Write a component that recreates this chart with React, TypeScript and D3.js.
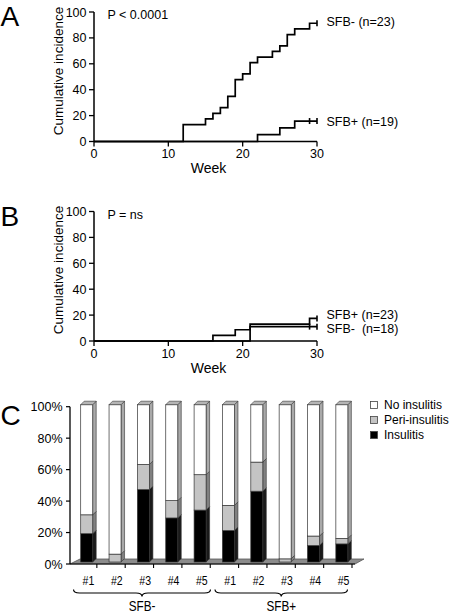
import React from "react";
import * as d3 from "d3";

// Panel A
const weeksAMinus = [0, 12, 15, 16, 17, 18, 19, 20, 21, 22, 24, 25, 26, 27, 29, 30];
const valsAMinus = [0, 13.0, 17.4, 21.7, 26.1, 34.8, 47.8, 52.2, 60.9, 65.2, 69.6, 73.9, 82.6, 87.0, 91.3, 91.3];
const censorAMinus = [30];
const weeksAPlus = [0, 22, 25, 27, 30];
const valsAPlus = [0, 5.3, 10.5, 15.8, 15.8];
const censorAPlus = [29, 30];
// Panel B
const weeksBPlus = [0, 16, 19, 21, 29, 30];
const valsBPlus = [0, 4.3, 8.7, 13.0, 17.4, 17.4];
const censorBPlus = [30];
const weeksBMinus = [0, 21, 30];
const valsBMinus = [0, 11.1, 11.1];
const censorBMinus = [29, 30];

const yTicks = [0, 20, 40, 60, 80, 100];
const xTicks = [0, 10, 20, 30];

// Panel C
const mice = ["#1", "#2", "#3", "#4", "#5", "#1", "#2", "#3", "#4", "#5"];
const groups = ["SFB-", "SFB+"];
const insulitis = [18, 0, 46, 28, 33, 20, 45, 0, 10.5, 11.5];
const periInsulitis = [12, 5, 16, 11, 22.5, 16, 18.5, 2, 6, 3.5];
const pctTicks = [0, 20, 40, 60, 80, 100];
const legendLabels = ["No insulitis", "Peri-insulitis", "Insulitis"];

const FONT = "'Liberation Sans', Arial, Helvetica, sans-serif";

const x = d3.scaleLinear().domain([0, 30]).range([94, 317]);

function KMPanel({ y0, letter, pText, curves, labels, titleCenter }: any) {
  const y = d3.scaleLinear().domain([0, 100]).range([y0, y0 - 129.5]);
  const line = d3
    .line<[number, number]>()
    .x((d) => x(d[0]))
    .y((d) => y(d[1]))
    .curve(d3.curveStepAfter);
  return (
    <g>
      <text x={0.5} y={y0 - 115.5} fontSize={28} fontFamily={FONT}>{letter}</text>
      <line x1={94} x2={94} y1={y(100)} y2={y(0)} stroke="#000" strokeWidth={1.5} />
      <line x1={94} x2={317} y1={y(0)} y2={y(0)} stroke="#000" strokeWidth={1.5} />
      {yTicks.map((t) => (
        <g key={"y" + t}>
          <line x1={89} x2={94} y1={y(t)} y2={y(t)} stroke="#000" strokeWidth={1.3} />
          <text x={86.5} y={y(t)} dy="0.36em" textAnchor="end" fontSize={12.5} fontFamily={FONT}>{t}</text>
        </g>
      ))}
      {xTicks.map((t) => (
        <g key={"x" + t}>
          <line x1={x(t)} x2={x(t)} y1={y(0)} y2={y(0) + 5} stroke="#000" strokeWidth={1.3} />
          <text x={x(t)} y={y(0) + 16.5} textAnchor="middle" fontSize={12.5} fontFamily={FONT}>{t}</text>
        </g>
      ))}
      <text x={208.5} y={y(0) + 31.5} textAnchor="middle" fontSize={14} fontFamily={FONT}>Week</text>
      <text
        transform={`translate(62.5,${titleCenter}) rotate(-90)`}
        textAnchor="middle"
        fontSize={13.5}
        fontFamily={FONT}
      >
        Cumulative incidence
      </text>
      <text x={107.5} y={y0 - 122.5} fontSize={12.5} fontFamily={FONT}>{pText}</text>
      {curves.map((c: any, i: number) => (
        <g key={i}>
          <path
            d={line(c.weeks.map((w: number, j: number) => [w, c.vals[j]]) as any) || ""}
            fill="none"
            stroke="#000"
            strokeWidth={1.7}
          />
          {c.censor.map((w: number) => {
            const idx = d3.bisectRight(c.weeks, w) - 1;
            const v = c.vals[Math.max(0, idx)];
            return (
              <line key={w} x1={x(w)} x2={x(w)} y1={y(v) - 3} y2={y(v) + 3} stroke="#000" strokeWidth={1.6} />
            );
          })}
        </g>
      ))}
      {labels.map((l: any, i: number) => (
        <text key={i} x={326.5} y={l.y} dy="0.36em" fontSize={12.5} fontFamily={FONT} style={{ whiteSpace: "pre" }}>
          {l.text}
        </text>
      ))}
    </g>
  );
}

function BarPanel() {
  const yb = d3.scaleLinear().domain([0, 100]).range([564, 406.7]);
  const band = d3.scaleBand<number>().domain(d3.range(mice.length)).range([68.5, 352]).padding(0);
  const bw = 12;
  const dep = 3.5;
  const lift = 2;
  const segColors = [
    { front: "#000000", side: "#1a1a1a" },
    { front: "#c4c4c4", side: "#808080" },
    { front: "#ffffff", side: "#a9a9a9" },
  ];
  return (
    <g fontFamily={FONT}>
      <text x={0.5} y={425} fontSize={28}>C</text>
      <polygon points="70,564 80,559 364,559 355,564" fill="#8c8c8c" stroke="#555" strokeWidth={0.8} />
      <line x1={70} x2={70} y1={yb(100)} y2={yb(0)} stroke="#000" strokeWidth={1.3} />
      {pctTicks.map((t) => (
        <g key={t}>
          <line x1={66} x2={70} y1={yb(t)} y2={yb(t)} stroke="#000" strokeWidth={1.2} />
          <text x={62.5} y={yb(t)} dy="0.36em" textAnchor="end" fontSize={12.5}>{t}%</text>
        </g>
      ))}
      <line x1={70} x2={355} y1={564} y2={564} stroke="#000" strokeWidth={1.2} />
      {d3.range(1, mice.length + 1).map((k) => {
        const xx = 68.5 + k * band.bandwidth();
        return <line key={k} x1={xx} x2={xx} y1={564} y2={568} stroke="#000" strokeWidth={1.1} />;
      })}
      {mice.map((m, i) => {
        const x0 = (band(i) as number) + 12.2;
        const x1 = x0 + bw;
        const vals = [insulitis[i], periInsulitis[i], 100 - insulitis[i] - periInsulitis[i]];
        let acc = 0;
        const segs = vals.map((v, k) => {
          const yBot = yb(acc) - lift;
          acc += v;
          const yTop = yb(acc) - lift;
          return { yBot, yTop, k, v };
        });
        const topY = yb(100) - lift;
        const cx = x0 + (bw + dep) / 2;
        return (
          <g key={i}>
            {segs.map((s) =>
              s.v > 0 ? (
                <g key={s.k}>
                  <polygon
                    points={`${x1},${s.yBot} ${x1 + dep},${s.yBot - dep} ${x1 + dep},${s.yTop - dep} ${x1},${s.yTop}`}
                    fill={segColors[s.k].side}
                    stroke="#333"
                    strokeWidth={0.6}
                  />
                  <rect x={x0} y={s.yTop} width={bw} height={s.yBot - s.yTop} fill={segColors[s.k].front} stroke="#333" strokeWidth={0.7} />
                </g>
              ) : null
            )}
            <polygon
              points={`${x0},${topY} ${x1},${topY} ${x1 + dep},${topY - dep} ${x0 + dep},${topY - dep}`}
              fill="#b5b5b5"
              stroke="#333"
              strokeWidth={0.6}
            />
            <text transform={`translate(${cx},584.5) scale(0.78,1)`} textAnchor="middle" fontSize={13.5}>{m}</text>
          </g>
        );
      })}
      {groups.map((g, gi) => {
        const xs = gi === 0 ? [73.5, 210.5] : [215, 347.5];
        const mid = (xs[0] + xs[1]) / 2;
        const d = `M${xs[0]},589.5 Q${xs[0]},593 ${xs[0] + 6},593 L${mid - 6},593 Q${mid},593 ${mid},596.5 Q${mid},593 ${mid + 6},593 L${xs[1] - 6},593 Q${xs[1]},593 ${xs[1]},589.5`;
        return (
          <g key={g}>
            <path d={d} fill="none" stroke="#000" strokeWidth={1.2} />
            <text transform={`translate(${mid},611) scale(0.78,1)`} textAnchor="middle" fontSize={15}>{g}</text>
          </g>
        );
      })}
      {legendLabels.map((l, i) => {
        const fills = ["#ffffff", "#c4c4c4", "#000000"];
        const cy = 405 + i * 15;
        return (
          <g key={l}>
            <rect x={370.5} y={cy - 3.5} width={7} height={7} fill={fills[i]} stroke="#444" strokeWidth={0.8} />
            <text x={384} y={cy} dy="0.36em" fontSize={12}>{l}</text>
          </g>
        );
      })}
    </g>
  );
}

export default function App() {
  return (
    <svg
      width={452}
      height={614}
      viewBox="0 0 452 614"
      style={{ position: "absolute", left: 0, top: 0, background: "#fff" }}
    >
      <rect width={452} height={614} fill="#fff" />
      <KMPanel
        y0={141.5}
        letter="A"
        pText="P < 0.0001"
        titleCenter={71}
        curves={[
          { weeks: weeksAMinus, vals: valsAMinus, censor: censorAMinus },
          { weeks: weeksAPlus, vals: valsAPlus, censor: censorAPlus },
        ]}
        labels={[
          { text: "SFB- (n=23)", y: 21 },
          { text: "SFB+ (n=19)", y: 121 },
        ]}
      />
      <KMPanel
        y0={341}
        letter="B"
        pText="P = ns"
        titleCenter={270}
        curves={[
          { weeks: weeksBPlus, vals: valsBPlus, censor: censorBPlus },
          { weeks: weeksBMinus, vals: valsBMinus, censor: censorBMinus },
        ]}
        labels={[
          { text: "SFB+ (n=23)", y: 314.3 },
          { text: "SFB-  (n=18)", y: 328.3 },
        ]}
      />
      <BarPanel />
    </svg>
  );
}
